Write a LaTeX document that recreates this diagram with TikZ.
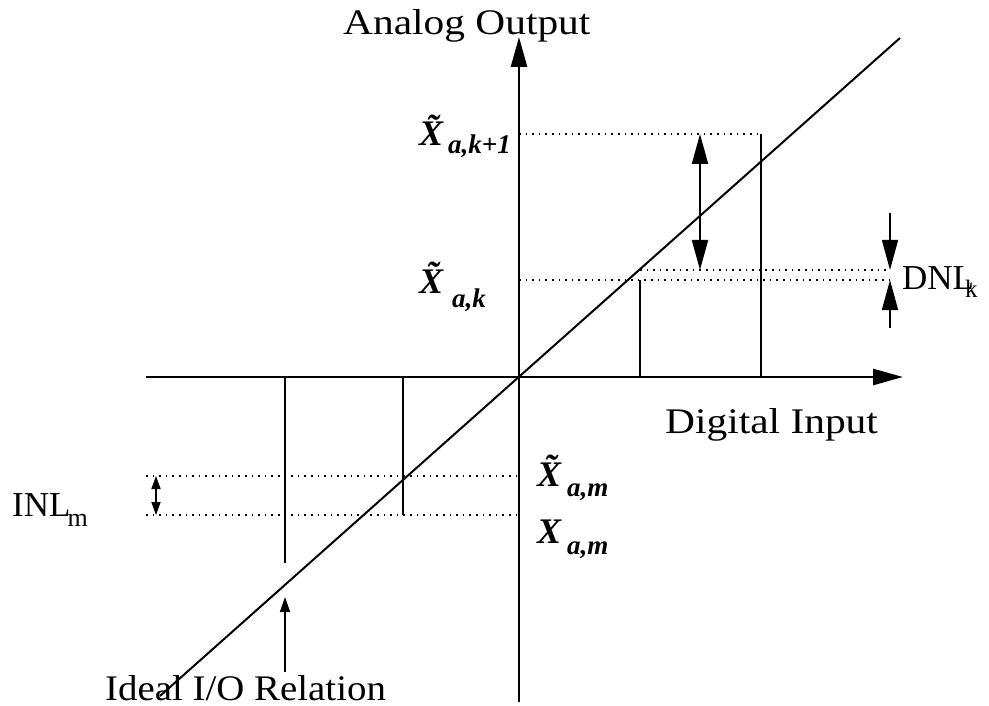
\documentclass[tikz,border=0pt]{standalone}
\usepackage{fontspec}
\setmainfont{Liberation Serif}
\usetikzlibrary{arrows.meta}
\newcommand{\fs}[1]{\fontsize{#1}{#1}\selectfont}
\begin{document}
\begin{tikzpicture}[x=1pt,y=-1pt,
  axisline/.style={line width=2.6pt},
  diag/.style={line width=2pt},
  thinline/.style={line width=1.5pt},
  dotline/.style={line width=1.6pt, dash pattern=on 1.6pt off 5pt},
  bighead/.style={-{Triangle[length=30pt,width=16pt]}},
  bigboth/.style={{Triangle[length=30pt,width=16pt]}-{Triangle[length=30pt,width=16pt]}},
  smallhead/.style={-{Triangle[length=15pt,width=10pt]}},
  smallboth/.style={{Triangle[length=13pt,width=9pt]}-{Triangle[length=13pt,width=9pt]}},
  txt/.style={inner sep=0pt, anchor=base west, font=\fs{36}},
  lab/.style={inner sep=0pt, anchor=base west, font=\fs{36}\bfseries\itshape}]
\useasboundingbox (0,0) rectangle (989,706);
% coordinates
\coordinate (hl) at (146,377);
\coordinate (hr) at (903,377);
\coordinate (vb) at (519,702);
\coordinate (vt) at (519,37);
\coordinate (d0) at (160,696);
\coordinate (d1) at (900,38);
% axes
\draw[axisline,bighead] (hl) -- (hr);
\draw[axisline,bighead] (vb) -- (vt);
% ideal line
\draw[diag] (d0) -- (d1);
% vertical code lines
\coordinate (r1b) at (761,377); \coordinate (r1t) at (761,134);
\coordinate (r2b) at (640,377); \coordinate (r2t) at (640,280);
\coordinate (l1b) at (403,377); \coordinate (l1t) at (403,515);
\coordinate (l2b) at (285,377); \coordinate (l2t) at (285,563);
\draw[thinline] (r1b) -- (r1t);
\draw[thinline] (r2b) -- (r2t);
\draw[thinline] (l1b) -- (l1t);
\draw[thinline] (l2b) -- (l2t);
% dotted lines
\coordinate (a1) at (519,134);
\coordinate (a2) at (640,270); \coordinate (a3) at (890,270);
\coordinate (a4) at (519,280); \coordinate (a5) at (890,280);
\coordinate (b1) at (146,476); \coordinate (b2) at (519,476);
\coordinate (b3) at (146,515); \coordinate (b4) at (519,515);
\draw[dotline] (a1) -- (r1t);
\draw[dotline] (a2) -- (a3);
\draw[dotline] (a4) -- (a5);
\draw[dotline] (b1) -- (b2);
\draw[dotline] (b3) -- (b4);
% step arrow
\coordinate (s1) at (700,134); \coordinate (s2) at (700,270);
\draw[diag,bigboth] (s1) -- (s2);
% DNL arrows
\coordinate (n1) at (890,213); \coordinate (n2) at (890,328);
\draw[thinline,bighead] (n1) -- (a3);
\draw[thinline,bighead] (n2) -- (a5);
% INL arrow
\coordinate (i1) at (156,476); \coordinate (i2) at (156,515);
\draw[thinline,smallboth] (i1) -- (i2);
% Ideal arrow
\coordinate (e1) at (285,672); \coordinate (e2) at (285,597);
\draw[thinline,smallhead] (e1) -- (e2);
% texts
\node[txt] (ao) at (343,35) {\scalebox{1.15}[1]{Analog Output}};
\node[txt] (di) at (665,433) {\scalebox{1.15}[1]{Digital Input}};
\node[txt] (io) at (105,700) {\scalebox{1.08}[1]{Ideal I/O Relation}};
\node[txt,font=\fs{35}] (dnl) at (902,289) {DNL\kern-9pt\raisebox{-9pt}{\fs{25}k}};
\node[txt,font=\fs{35}] (inl) at (12,516) {INL\kern-3pt\raisebox{-10pt}{\fs{26}m}};
\node[lab] (xk1) at (419,146) {\~{X}\hspace{5pt}\raisebox{-8pt}{\fs{27}a,k+1}};
\node[lab] (xk) at (419,293) {\~{X}\hspace{9pt}\raisebox{-14pt}{\fs{27}a,k}};
\node[lab] (xtm) at (537,486) {\~{X}\hspace{6pt}\raisebox{-10pt}{\fs{27}a,m}};
\node[lab] (xm) at (537,543) {X\hspace{6pt}\raisebox{-11pt}{\fs{27}a,m}};
\end{tikzpicture}
\end{document}
